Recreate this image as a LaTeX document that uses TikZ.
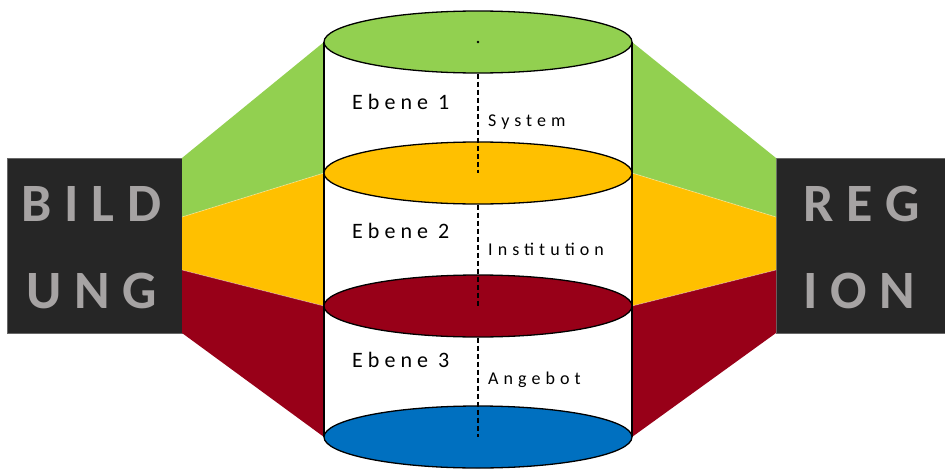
\documentclass[tikz,border=0pt]{standalone}
\usepackage{fontspec}
\setmainfont{Carlito}
\newfontfamily\ebfont[LetterSpace=23]{Carlito}
\newfontfamily\lblfont[LetterSpace=28]{Carlito}
\newfontfamily\bigfont[LetterSpace=24]{Carlito}
\usetikzlibrary{shapes.geometric}
\definecolor{cgreen}{RGB}{146,208,80}
\definecolor{corange}{RGB}{255,192,0}
\definecolor{cred}{RGB}{152,0,24}
\definecolor{cblue}{RGB}{0,112,192}
\definecolor{cbox}{RGB}{38,38,38}
\definecolor{cgray}{RGB}{166,163,163}
\begin{document}
\begin{tikzpicture}[x=1pt,y=-1pt,
  disc/.style={ellipse, draw=black, line width=1.3pt, inner sep=0pt, minimum width=308pt, minimum height=62pt},
  sidebox/.style={fill=cbox, draw=cbox!70!white, line width=0.5pt, inner sep=0pt, minimum height=175pt, anchor=north west},
  bigtxt/.style={anchor=base west, inner sep=0pt, text=cgray, font=\bigfont\bfseries\fontsize{54}{62}\selectfont},
  ebtxt/.style={anchor=base west, inner sep=0pt, font=\ebfont\fontsize{22}{26}\selectfont},
  lbltxt/.style={anchor=base west, inner sep=0pt, font=\lblfont\fontsize{18}{21}\selectfont},
  axis/.style={line width=1.8pt, dash pattern=on 5pt off 3pt}]
\useasboundingbox (0,0) rectangle (945,471);

% side boxes
\node[sidebox, minimum width=175pt] (L) at (7,158) {};
\node[sidebox, minimum width=171pt] (R) at (776,158) {};

% coordinates on the boxes
\coordinate (L1) at (182,158);
\coordinate (L2) at (182,217);
\coordinate (L3) at (182,270);
\coordinate (L4) at (182,333);
\coordinate (R1) at (776,158);
\coordinate (R2) at (776,217);
\coordinate (R3) at (776,270);
\coordinate (R4) at (776,333);

% cylinder side points
\coordinate (CL1) at (324,42);
\coordinate (CL2) at (324,173);
\coordinate (CL3) at (324,306);
\coordinate (CL4) at (324,437);
\coordinate (CR1) at (632,42);
\coordinate (CR2) at (632,173);
\coordinate (CR3) at (632,306);
\coordinate (CR4) at (632,437);

% fans
\fill[cgreen] (L1) -- (CL1) -- (CL2) -- (L2) -- cycle;
\fill[corange] (L2) -- (CL2) -- (CL3) -- (L3) -- cycle;
\fill[cred] (L3) -- (CL3) -- (CL4) -- (L4) -- cycle;
\fill[cgreen] (R1) -- (CR1) -- (CR2) -- (R2) -- cycle;
\fill[corange] (R2) -- (CR2) -- (CR3) -- (R3) -- cycle;
\fill[cred] (R3) -- (CR3) -- (CR4) -- (R4) -- cycle;
\draw[white, opacity=0.35, line width=0.8pt] (L2) -- (CL2) (L3) -- (CL3) (R2) -- (CR2) (R3) -- (CR3);

% cylinder body
\fill[white] (CL1) rectangle (CR4);
\draw[line width=1.3pt] (CL1) -- (CL4) (CR1) -- (CR4);

% discs
\node[disc, fill=cgreen] (e1) at (478,42) {};
\node[disc, fill=corange] (e2) at (478,173) {};
\node[disc, fill=cred] (e3) at (478,306) {};
\node[disc, fill=cblue] (e4) at (478,437) {};

% axis
\fill (e1.center) circle (1.4pt);
\draw[axis] (e1.south) -- (e2.center);
\draw[axis] (e2.south) -- (e3.center);
\draw[axis] (e3.south) -- (e4.center);

% texts
\node[ebtxt] (t1) at (352,109) {Ebene 1};
\node[ebtxt] (t2) at (352,238) {Ebene 2};
\node[ebtxt] (t3) at (352,367) {Ebene 3};
\node[lbltxt] (s1) at (488,126) {System};
\node[lbltxt] (s2) at (488,255) {Institution};
\node[lbltxt] (s3) at (488,384) {Angebot};

\node[bigtxt] (b1) at (21,221) {BILD};
\node[bigtxt] (b2) at (26,308) {UNG};
\node[bigtxt] (r1) at (803,221) {REG};
\node[bigtxt] (r2) at (803,308) {ION};
\end{tikzpicture}
\end{document}
